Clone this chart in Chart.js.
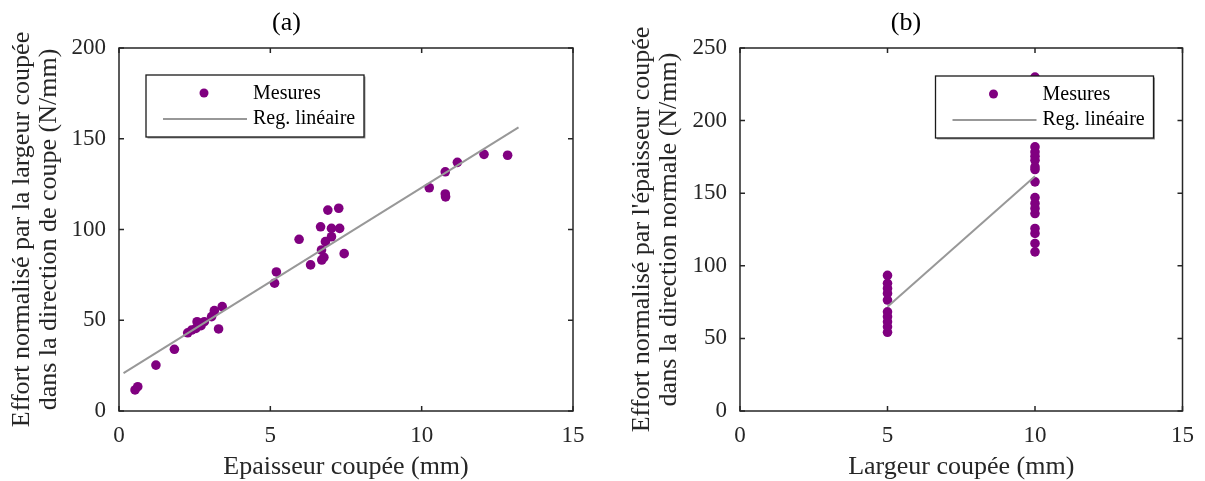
<!DOCTYPE html>
<html>
<head>
<meta charset="utf-8">
<script src="https://cdn.jsdelivr.net/npm/chart.js@4/dist/chart.umd.min.js"></script>
<style>
body{margin:0;background:#fff;}
.wrap{position:absolute;top:0;height:481px;}
</style>
</head>
<body>
<div class="wrap" style="left:0;width:602px;"><canvas id="chartA"></canvas></div>
<div class="wrap" style="left:620px;width:585px;"><canvas id="chartB"></canvas></div>
<script>
// (a) mesures : epaisseur coupee (mm) / effort normalise (N/mm)
let measA_x = [0.53, 0.62, 1.22, 1.83, 2.27, 2.4, 2.54, 2.58, 2.71, 2.82, 3.06, 3.15, 3.29, 3.41, 5.14, 5.2, 5.95, 6.33, 6.66, 6.69, 6.7, 6.77, 6.82, 6.9, 7.02, 7.02, 7.26, 7.29, 7.44, 10.25, 10.78, 10.78, 10.79, 11.18, 12.06, 12.84];
let measA_y = [11.6, 13.4, 25.3, 34, 43.1, 44.6, 45.5, 49.2, 47, 49.2, 52, 55.3, 45.2, 57.5, 70.4, 76.6, 94.6, 80.5, 101.5, 88.7, 83.2, 84.7, 93.3, 110.7, 100.6, 96, 111.7, 100.6, 86.7, 123, 131.8, 119.6, 118, 137, 141.4, 140.9];
let regA_x = [0.15, 13.2];
let regA_y = [20.9, 156.3];

// (b) mesures : largeur coupee (mm)
let measB_x = [5, 5, 5, 5, 5, 5, 5, 5, 5, 5, 10, 10, 10, 10, 10, 10, 10, 10, 10, 10, 10, 10, 10, 10, 10, 10];
let measB_y = [93.4, 87.9, 84.4, 81, 76.4, 68.3, 64.9, 61.4, 58, 54.2, 230, 181.9, 178.4, 175.5, 172.7, 168.1, 166.3, 157.8, 147, 142.9, 139.5, 136, 125.7, 122.3, 115.4, 109.6];
let regB_x = [5, 10];
let regB_y = [71.8, 161.7];

let xTicks = [0, 5, 10, 15];
let yTicksA = [0, 50, 100, 150, 200];
let yTicksB = [0, 50, 100, 150, 200, 250];

let serif = "'Liberation Serif', 'Times New Roman', serif";

function pts(xs, ys){
  return xs.map(function(x, i){ return {x: x, y: ys[i]}; });
}

// cadre + graduations vers l'interieur
let framePlugin = {
  id: 'frame',
  afterDatasetsDraw: function(chart){
    let ctx = chart.ctx, a = chart.chartArea;
    let xs = chart.scales.x, ys = chart.scales.y;
    ctx.save();
    ctx.strokeStyle = '#262626';
    ctx.lineWidth = 1.5;
    ctx.strokeRect(a.left, a.top, a.right - a.left, a.bottom - a.top);
    ctx.beginPath();
    xs.ticks.forEach(function(t){
      let p = xs.getPixelForValue(t.value);
      ctx.moveTo(p, a.bottom); ctx.lineTo(p, a.bottom - 5);
      ctx.moveTo(p, a.top); ctx.lineTo(p, a.top + 5);
    });
    ys.ticks.forEach(function(t){
      let p = ys.getPixelForValue(t.value);
      ctx.moveTo(a.left, p); ctx.lineTo(a.left + 5, p);
      ctx.moveTo(a.right, p); ctx.lineTo(a.right - 5, p);
    });
    ctx.stroke();
    ctx.restore();
  }
};

// legende dans le graphe
let legendPlugin = {
  id: 'boxLegend',
  afterDraw: function(chart, args, opts){
    let ctx = chart.ctx, a = chart.chartArea;
    let w = 218, h = 62;
    let left = opts.side === 'right' ? a.right - opts.dx - w : a.left + opts.dx;
    let top = a.top + opts.dy;
    ctx.save();
    ctx.fillStyle = '#9a9a9a';
    ctx.fillRect(left + 1.5, top + 1.5, w, h);
    ctx.fillStyle = '#fff';
    ctx.fillRect(left, top, w, h);
    ctx.strokeStyle = '#1a1a1a';
    ctx.lineWidth = 1.3;
    ctx.strokeRect(left, top, w, h);

    let ds = chart.data.datasets;
    ctx.fillStyle = ds[0].backgroundColor;
    ctx.beginPath();
    ctx.arc(left + 58, top + 18, 4.5, 0, Math.PI * 2);
    ctx.fill();
    ctx.strokeStyle = ds[1].borderColor;
    ctx.lineWidth = 2;
    ctx.beginPath();
    ctx.moveTo(left + 17, top + 44);
    ctx.lineTo(left + 101, top + 44);
    ctx.stroke();

    ctx.fillStyle = '#000';
    ctx.font = '20px ' + serif;
    ctx.textBaseline = 'middle';
    ctx.fillText(ds[0].label, left + 107, top + 19);
    ctx.fillText(ds[1].label, left + 107, top + 44);
    ctx.restore();
  }
};

function makeChart(id, title, meas, reg, xLabel, yLabel, yMax, yTicks, padRight, yWidth, legendOpts){
  let ctx = document.getElementById(id).getContext('2d');
  return new Chart(ctx, {
    type: 'scatter',
    data: {
      datasets: [{
        label: 'Mesures',
        data: meas,
        backgroundColor: '#800080',
        borderColor: '#800080',
        pointRadius: 4.8,
        pointHoverRadius: 4.8,
        borderWidth: 0,
        order: 2
      }, {
        type: 'line',
        label: 'Reg. linéaire',
        data: reg,
        borderColor: '#989898',
        borderWidth: 2,
        pointRadius: 0,
        fill: false,
        tension: 0,
        order: 1
      }]
    },
    options: {
      responsive: true,
      maintainAspectRatio: false,
      animation: false,
      layout: {padding: {left: 0, right: padRight, top: 0, bottom: 0}},
      plugins: {
        legend: {display: false},
        tooltip: {enabled: false},
        title: {
          display: true,
          text: title,
          color: '#000',
          font: {family: serif, size: 26, weight: 'normal', lineHeight: 1.2},
          padding: {top: 8, bottom: 8.8}
        },
        boxLegend: legendOpts
      },
      scales: {
        x: {
          type: 'linear',
          min: 0, max: 15,
          afterBuildTicks: function(s){ s.ticks = xTicks.map(function(v){ return {value: v}; }); },
          grid: {display: false, drawTicks: false},
          border: {display: false},
          ticks: {color: '#262626', padding: 11, font: {family: serif, size: 23, lineHeight: 1.2}},
          title: {display: true, text: xLabel, color: '#262626', padding: {top: 4, bottom: 0},
            font: {family: serif, size: 26, lineHeight: 1.04}},
          afterFit: function(s){ s.height = 70; }
        },
        y: {
          type: 'linear',
          min: 0, max: yMax,
          afterBuildTicks: function(s){ s.ticks = yTicks.map(function(v){ return {value: v}; }); },
          grid: {display: false, drawTicks: false},
          border: {display: false},
          ticks: {color: '#262626', padding: 13, font: {family: serif, size: 23, lineHeight: 1.2}},
          title: {display: true, text: yLabel, color: '#262626', padding: {top: 8.5, bottom: 0},
            font: {family: serif, size: 26, lineHeight: 1.04}},
          afterFit: function(s){ s.width = yWidth; }
        }
      }
    },
    plugins: [framePlugin, legendPlugin]
  });
}

makeChart('chartA', '(a)', pts(measA_x, measA_y), pts(regA_x, regA_y),
  'Epaisseur coupée (mm)',
  ['Effort normalisé par la largeur coupée', 'dans la direction de coupe (N/mm)'],
  200, yTicksA, 29, 119, {side: 'left', dx: 27, dy: 27});

makeChart('chartB', '(b)', pts(measB_x, measB_y), pts(regB_x, regB_y),
  'Largeur coupée (mm)',
  ["Effort normalisé par l'épaisseur coupée", 'dans la direction normale (N/mm)'],
  250, yTicksB, 13, 120, {side: 'right', dx: 29, dy: 28});
</script>
</body>
</html>
